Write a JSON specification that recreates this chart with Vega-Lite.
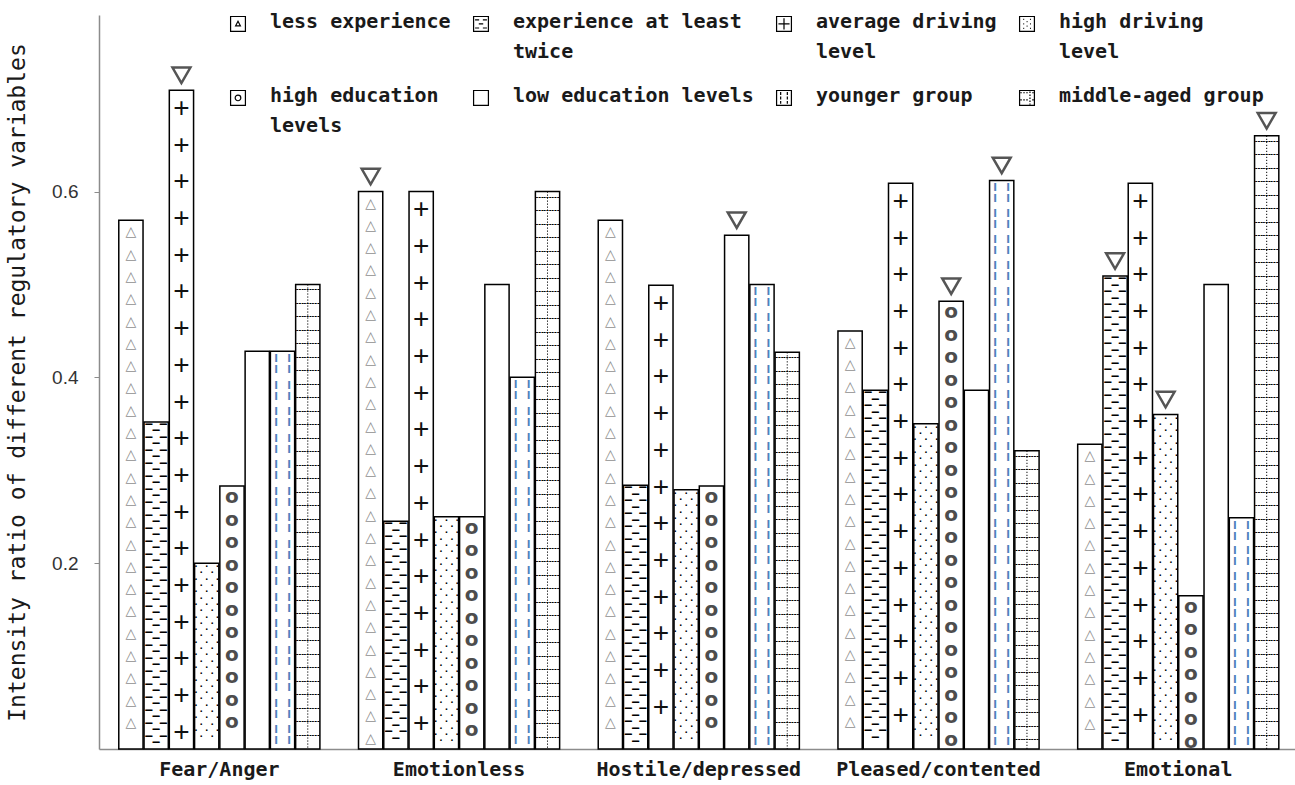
{
  "$schema": "https://vega.github.io/schema/vega-lite/v6.json",
  "width": 1196,
  "height": 734,
  "autosize": "none",
  "padding": {"left": 99, "top": 15, "right": 0, "bottom": 36},
  "background": "white",
  "data": {
    "values": [
      {"cat": "Fear/Anger", "series": "less experience", "value": 0.569, "sig": false},
      {"cat": "Fear/Anger", "series": "experience at least twice", "value": 0.352, "sig": false},
      {"cat": "Fear/Anger", "series": "average driving level", "value": 0.709, "sig": true},
      {"cat": "Fear/Anger", "series": "high driving level", "value": 0.2, "sig": false},
      {"cat": "Fear/Anger", "series": "high education levels", "value": 0.283, "sig": false},
      {"cat": "Fear/Anger", "series": "low education levels", "value": 0.428, "sig": false},
      {"cat": "Fear/Anger", "series": "younger group", "value": 0.428, "sig": false},
      {"cat": "Fear/Anger", "series": "middle-aged group", "value": 0.5, "sig": false},
      {"cat": "Emotionless", "series": "less experience", "value": 0.6, "sig": true},
      {"cat": "Emotionless", "series": "experience at least twice", "value": 0.245, "sig": false},
      {"cat": "Emotionless", "series": "average driving level", "value": 0.6, "sig": false},
      {"cat": "Emotionless", "series": "high driving level", "value": 0.25, "sig": false},
      {"cat": "Emotionless", "series": "high education levels", "value": 0.25, "sig": false},
      {"cat": "Emotionless", "series": "low education levels", "value": 0.5, "sig": false},
      {"cat": "Emotionless", "series": "younger group", "value": 0.4, "sig": false},
      {"cat": "Emotionless", "series": "middle-aged group", "value": 0.6, "sig": false},
      {"cat": "Hostile/depressed", "series": "less experience", "value": 0.569, "sig": false},
      {"cat": "Hostile/depressed", "series": "experience at least twice", "value": 0.284, "sig": false},
      {"cat": "Hostile/depressed", "series": "average driving level", "value": 0.499, "sig": false},
      {"cat": "Hostile/depressed", "series": "high driving level", "value": 0.279, "sig": false},
      {"cat": "Hostile/depressed", "series": "high education levels", "value": 0.283, "sig": false},
      {"cat": "Hostile/depressed", "series": "low education levels", "value": 0.553, "sig": true},
      {"cat": "Hostile/depressed", "series": "younger group", "value": 0.5, "sig": false},
      {"cat": "Hostile/depressed", "series": "middle-aged group", "value": 0.427, "sig": false},
      {"cat": "Pleased/contented", "series": "less experience", "value": 0.45, "sig": false},
      {"cat": "Pleased/contented", "series": "experience at least twice", "value": 0.386, "sig": false},
      {"cat": "Pleased/contented", "series": "average driving level", "value": 0.609, "sig": false},
      {"cat": "Pleased/contented", "series": "high driving level", "value": 0.35, "sig": false},
      {"cat": "Pleased/contented", "series": "high education levels", "value": 0.482, "sig": true},
      {"cat": "Pleased/contented", "series": "low education levels", "value": 0.386, "sig": false},
      {"cat": "Pleased/contented", "series": "younger group", "value": 0.612, "sig": true},
      {"cat": "Pleased/contented", "series": "middle-aged group", "value": 0.321, "sig": false},
      {"cat": "Emotional", "series": "less experience", "value": 0.328, "sig": false},
      {"cat": "Emotional", "series": "experience at least twice", "value": 0.509, "sig": true},
      {"cat": "Emotional", "series": "average driving level", "value": 0.609, "sig": false},
      {"cat": "Emotional", "series": "high driving level", "value": 0.36, "sig": true},
      {"cat": "Emotional", "series": "high education levels", "value": 0.165, "sig": false},
      {"cat": "Emotional", "series": "low education levels", "value": 0.5, "sig": false},
      {"cat": "Emotional", "series": "younger group", "value": 0.249, "sig": false},
      {"cat": "Emotional", "series": "middle-aged group", "value": 0.66, "sig": true}
    ]
  },
  "encoding": {
    "x": {
      "field": "cat", "type": "nominal",
      "sort": ["Fear/Anger", "Emotionless", "Hostile/depressed", "Pleased/contented", "Emotional"],
      "scale": {"paddingInner": 0.161, "paddingOuter": 0.075, "align": 0.55},
      "axis": {"title": null, "labelFont": "DejaVu Sans Mono", "labelFontWeight": "bold", "labelFontSize": 20, "labelColor": "#1a1a1a", "labelLimit": 400, "ticks": false, "domainColor": "#8c8c8c", "domainWidth": 1.5, "labelPadding": 10, "labelAngle": 0}
    },
    "xOffset": {
      "field": "series", "type": "nominal",
      "sort": ["less experience", "experience at least twice", "average driving level", "high driving level", "high education levels", "low education levels", "younger group", "middle-aged group"],
      "scale": {"paddingInner": 0.04, "paddingOuter": 0}
    },
    "y": {
      "field": "value", "type": "quantitative",
      "scale": {"domain": [0, 0.79], "nice": false},
      "axis": {"values": [0.2, 0.4, 0.6], "format": ".1f", "title": "Intensity ratio of different regulatory variables", "titleFont": "DejaVu Sans Mono", "titleFontWeight": "normal", "titleFontSize": 23, "titleColor": "#1a1a1a", "titlePadding": 22, "labelFont": "Liberation Sans", "labelFontSize": 19, "labelColor": "#333333", "labelPadding": 16, "tickSize": 5, "tickColor": "#8c8c8c", "domainColor": "#8c8c8c", "domainWidth": 1.5, "grid": false}
    }
  },
  "layer": [
    {
      "mark": {"type": "bar", "stroke": "black", "strokeWidth": 1.5},
      "encoding": {
        "fill": {
          "field": "series", "type": "nominal",
          "sort": ["less experience", "experience at least twice", "average driving level", "high driving level", "high education levels", "low education levels", "younger group", "middle-aged group"],
          "scale": {"range": ["white", "white", "white", "white", "white", "white", "white", "white"]},
          "legend": {
            "title": null, "orient": "none", "legendX": 129, "legendY": 3, "direction": "horizontal", "columns": 4,
            "symbolType": {"expr": "datum.value == 'less experience' ? 'M-1,-1.55H1V0.45H-1Z M0,-0.9L0.32,-0.3L-0.32,-0.3Z' : datum.value == 'experience at least twice' ? 'M-1,-1.55H1V0.45H-1Z M-0.8,-1.1H-0.25M0.25,-1.1H0.8M-0.3,-0.55H0.3M-0.8,0H-0.25M0.25,0H0.8' : datum.value == 'average driving level' ? 'M-1,-1.55H1V0.45H-1Z M0,-1.3V0.2M-0.75,-0.55H0.75' : datum.value == 'high driving level' ? 'M-1,-1.55H1V0.45H-1Z M-0.5,-1.15h0.12M0.4,-1.15h0.12M-0.05,-0.85h0.12M-0.5,-0.55h0.12M0.4,-0.55h0.12M-0.05,-0.25h0.12M-0.5,0.05h0.12M0.4,0.05h0.12' : datum.value == 'high education levels' ? 'M-1,-1.55H1V0.45H-1Z M-0.38,-0.55A0.38,0.38 0 1,0 0.38,-0.55A0.38,0.38 0 1,0 -0.38,-0.55' : datum.value == 'younger group' ? 'M-1,-1.55H1V0.45H-1Z M-0.45,-1.35V-0.95M-0.45,-0.75V-0.35M-0.45,-0.15V0.25M0.45,-1.35V-0.95M0.45,-0.75V-0.35M0.45,-0.15V0.25' : datum.value == 'middle-aged group' ? 'M-1,-1.55H1V0.45H-1Z M-0.9,-1.25h0.2M-0.5,-1.25h0.2M-0.1,-1.25h0.2M0.7,-1.25h0.2M-0.9,-0.3h0.2M-0.5,-0.3h0.2M-0.1,-0.3h0.2M0.7,-0.3h0.2M0.4,-1.4v0.2M0.4,-1.0v0.2M0.4,-0.6v0.2M0.4,-0.2v0.2M0.4,0.2v0.15' : 'M-1,-1.55H1V0.45H-1Z'"},
            "symbolSize": 220, "symbolStrokeColor": "black", "symbolStrokeWidth": 1.2,
            "labelFont": "DejaVu Sans Mono", "labelFontWeight": "bold", "labelFontSize": 20, "labelColor": "#1a1a1a",
            "labelLimit": 320, "labelOffset": 22, "labelBaseline": "alphabetic", "columnPadding": 20, "rowPadding": 24, "padding": 0, "gridAlign": "each",
            "labelExpr": "datum.label == 'experience at least twice' ? ['experience at least', 'twice'] : datum.label == 'average driving level' ? ['average driving', 'level'] : datum.label == 'high driving level' ? ['high driving', 'level'] : datum.label == 'high education levels' ? ['high education', 'levels'] : [datum.label, ' ']"
          }
        }
      }
    },
    {
      "transform": [{"filter": "datum.series === 'less experience'"}],
      "mark": {"type": "text", "baseline": "top", "align": "center", "dy": 5, "fontSize": 14, "font": "DejaVu Sans", "fontWeight": "bold", "fill": "#8f8f8f", "lineHeight": 22.3, "lineBreak": "|", "text": {"expr": "pad('', floor((datum.value*929-18)/22.3)+1, '△|')"}}
    },
    {
      "transform": [{"filter": "datum.series === 'experience at least twice'"}],
      "mark": {"type": "text", "baseline": "top", "align": "center", "dy": -3, "fontSize": 12, "font": "DejaVu Sans Mono", "fontWeight": "bold", "fill": "black", "lineHeight": 6.5, "lineBreak": "|", "text": {"expr": "pad('', floor((datum.value*929+1)/13), '– –|–|')"}}
    },
    {
      "transform": [{"filter": "datum.series === 'average driving level'"}],
      "mark": {"type": "text", "baseline": "top", "align": "center", "dy": 4.7, "fontSize": 28, "font": "Liberation Sans", "fill": "#111111", "lineHeight": 36.7, "lineBreak": "|", "text": {"expr": "pad('', floor((datum.value*929-25)/36.7)+1, '+|')"}}
    },
    {
      "transform": [{"filter": "datum.series === 'high driving level'"}],
      "mark": {"type": "text", "baseline": "top", "align": "center", "dy": -3, "fontSize": 9, "font": "DejaVu Sans Mono", "fontWeight": "bold", "fill": "black", "lineHeight": 6.3, "lineBreak": "|", "text": {"expr": "pad('', floor((datum.value*929-2)/12.6), '. . .|. .|')"}}
    },
    {
      "transform": [{"filter": "datum.series === 'high education levels'"}],
      "mark": {"type": "text", "baseline": "top", "align": "center", "dy": 1, "fontSize": 20, "font": "DejaVu Sans", "fontWeight": "bold", "fill": "#4d4d4d", "lineHeight": 22.5, "lineBreak": "|", "text": {"expr": "pad('', floor((datum.value*929-18)/22.5)+1, 'o|')"}}
    },
    {
      "transform": [{"filter": "datum.series === 'younger group'"}],
      "mark": {"type": "text", "baseline": "top", "align": "center", "dx": -6.5, "dy": 1, "fontSize": 22, "font": "DejaVu Sans Mono", "fill": "#4f81bd", "lineBreak": "|", "lineHeight": {"expr": "datum.value*929/max(1, round(datum.value*929/26))"}, "text": {"expr": "pad('', max(1, round(datum.value*929/26)), '¦|')"}}
    },
    {
      "transform": [{"filter": "datum.series === 'younger group'"}],
      "mark": {"type": "text", "baseline": "top", "align": "center", "dx": 6.5, "dy": 1, "fontSize": 22, "font": "DejaVu Sans Mono", "fill": "#4f81bd", "lineBreak": "|", "lineHeight": {"expr": "datum.value*929/max(1, round(datum.value*929/26))"}, "text": {"expr": "pad('', max(1, round(datum.value*929/26)), '¦|')"}}
    },
    {
      "transform": [{"filter": "datum.series === 'middle-aged group'"}],
      "mark": {"type": "text", "baseline": "top", "align": "center", "dy": 0, "fontSize": 13, "font": "DejaVu Sans Mono", "fontWeight": "bold", "fill": "black", "lineHeight": 13.5, "lineBreak": "|", "text": {"expr": "pad('', floor((datum.value*929-6)/13.5)+1, '┄┄┄|')"}}
    },
    {
      "transform": [{"filter": "datum.series === 'middle-aged group'"}],
      "mark": {"type": "rule", "stroke": "black", "strokeWidth": 1, "strokeDash": [1.2, 1.8]},
      "encoding": {"y2": {"datum": 0}}
    },
    {
      "transform": [{"filter": "datum.sig"}],
      "mark": {"type": "point", "shape": "triangle-down", "filled": false, "stroke": "#555555", "strokeWidth": 2.5, "size": 320, "opacity": 1, "yOffset": -15}
    }
  ],
  "config": {
    "view": {"stroke": null},
    "style": {"guide-label": {"lineHeight": 30}}
  }
}
